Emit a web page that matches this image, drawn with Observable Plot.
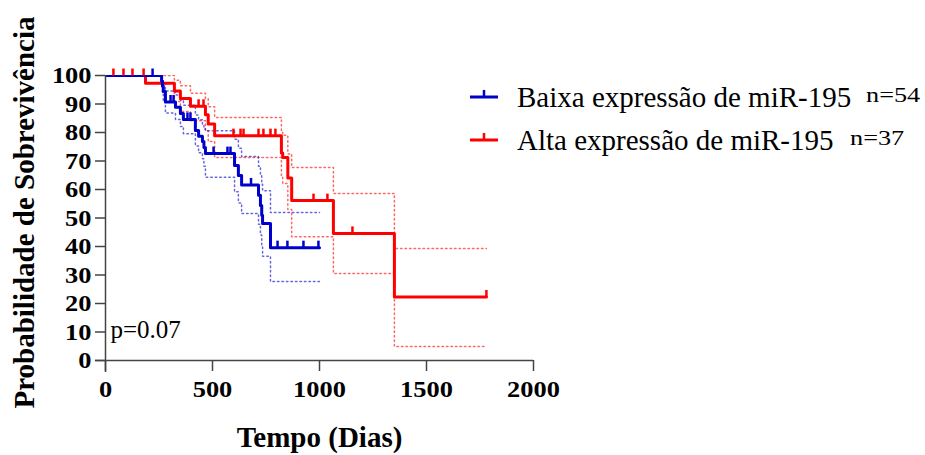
<!DOCTYPE html>
<html><head><meta charset="utf-8">
<script src="https://cdn.jsdelivr.net/npm/d3@7"></script>
<script src="https://cdn.jsdelivr.net/npm/@observablehq/plot@0.6"></script>
<style>
body{margin:0;background:#fff;}
#wrap{position:relative;width:925px;height:455px;}
#wrap svg{position:absolute;left:0;top:0;}
#wrap svg text{fill:#000;}
</style></head><body><div id="wrap"></div>
<script>
// Low expression (blue), n=54
const lowDays  = [0, 262, 266, 270, 280, 327, 350, 364, 420, 435, 453, 460, 467, 603, 621, 636, 715, 724, 730, 734, 771, 1000];
const lowSurv  = [100, 98.1, 96.3, 94.4, 90.7, 88.9, 86.7, 84.6, 80.7, 78.7, 76.8, 74.7, 72.6, 68.4, 64.9, 61.6, 58.0, 54.4, 51.0, 48.1, 39.6, 39.6];
const lowUpper = [100, 100, 98.9, 97.5, 94.6, 93.2, 91.3, 89.6, 86.1, 84.5, 82.8, 81.2, 80.6, 77.6, 74.5, 71.6, 68.2, 64.8, 61.8, 59.6, 51.9, 51.9];
const lowLower = [100, 96.3, 93.7, 91.3, 86.8, 84.6, 82.1, 79.6, 75.3, 72.9, 70.8, 68.2, 64.3, 59.2, 55.3, 51.6, 47.8, 44.0, 40.2, 36.6, 27.7, 27.7];
const lowCensored = [220, 304, 318, 383, 397, 505, 570, 584, 680, 804, 850, 925, 995];

// High expression (red), n=37
const highDays  = [0, 187, 322, 350, 397, 467, 480, 510, 822, 828, 852, 870, 1065, 1350, 1780];
const highSurv  = [100, 97.3, 94.6, 91.9, 89.2, 86.2, 83.0, 78.9, 72.8, 71.2, 64.0, 56.1, 44.6, 22.3, 22.3];
const highUpper = [100, 100, 98.3, 96.4, 93.8, 91.9, 89.0, 85.3, 80.2, 79.0, 72.5, 67.7, 58.6, 39.3, 39.3];
const highLower = [100, 97.3, 90.9, 87.4, 84.1, 80.5, 76.8, 71.2, 64.5, 62.1, 53.0, 43.4, 30.5, 4.9, 4.9];
const highCensored = [37, 84, 126, 178, 435, 458, 598, 631, 645, 715, 738, 771, 794, 972, 1037, 1154, 1780];

const seriesNames = ["Baixa expressão de miR-195", "Alta expressão de miR-195"];
const seriesCounts = ["n=54", "n=37"];
const xTicks = [0, 500, 1000, 1500, 2000];
const yTicks = [0, 10, 20, 30, 40, 50, 60, 70, 80, 90, 100];
const xTitle = "Tempo (Dias)";
const yTitle = "Probabilidade de Sobrevivência";
const pText = "p=0.07";

const BLUE = "#0000cc", RED = "#ff0000";
const FONT = "'Liberation Serif', 'Times New Roman', serif";

function stepRows(days, surv, up, lo) {
  return days.map((d, i) => ({day: d, surv: surv[i], upper: up[i], lower: lo[i]}));
}
function censorRows(cens, days, surv) {
  return cens.map(c => ({day: c, surv: surv[Math.max(0, d3.bisectRight(days, c) - 1)]}));
}
const lowRows = stepRows(lowDays, lowSurv, lowUpper, lowLower);
const highRows = stepRows(highDays, highSurv, highUpper, highLower);
const lowCens = censorRows(lowCensored, lowDays, lowSurv);
const highCens = censorRows(highCensored, highDays, highSurv);

const censorSymbol = {draw(ctx, size) { const l = Math.sqrt(size / Math.PI); ctx.moveTo(0, 0); ctx.lineTo(0, -l); }};

const ci = (rows, key, color) => Plot.line(rows, {x: "day", y: key, curve: "step-after", stroke: color, strokeOpacity: 0.6, strokeWidth: 1.5, strokeDasharray: "1.5,3", clip: true});

const plot = Plot.plot({
  width: 925, height: 455,
  marginLeft: 105, marginRight: 392, marginTop: 75, marginBottom: 95,
  style: {fontFamily: FONT, background: "white", overflow: "visible"},
  x: {domain: [0, 2000], label: null},
  y: {domain: [0, 100], label: null},
  marks: [
    ci(highRows, "upper", RED), ci(highRows, "lower", RED),
    ci(lowRows, "upper", BLUE), ci(lowRows, "lower", BLUE),
    Plot.line(highRows, {x: "day", y: "surv", curve: "step-after", stroke: RED, strokeWidth: 3, clip: true}),
    Plot.line(lowRows, {x: "day", y: "surv", curve: "step-after", stroke: BLUE, strokeWidth: 3, clip: true}),
    Plot.dot(highCens, {x: "day", y: "surv", symbol: censorSymbol, r: 7, stroke: RED, strokeWidth: 2.5, fill: "none"}),
    Plot.dot(lowCens, {x: "day", y: "surv", symbol: censorSymbol, r: 7, stroke: BLUE, strokeWidth: 2.5, fill: "none"}),
    Plot.ruleX([0], {y1: -4.2, y2: 100, stroke: "#444", strokeWidth: 1.5}),
    Plot.ruleY([0], {x1: -47, x2: 2000, stroke: "#444", strokeWidth: 1.5}),
    Plot.axisY({ticks: yTicks, tickFormat: d => String(d), tickSize: 10, tickPadding: 4, fontSize: 24, fontWeight: "bold", stroke: "#444", strokeWidth: 1.5, label: null}),
    Plot.axisX({ticks: xTicks, tickFormat: d => String(d), tickSize: 11, tickPadding: 8, fontSize: 24, fontWeight: "bold", stroke: "#444", strokeWidth: 1.5, label: null}),
    Plot.text([pText], {frameAnchor: "bottom-left", dx: 5, dy: -23, textAnchor: "start", fontSize: 25})
  ]
});
const wrap = document.getElementById("wrap");
wrap.appendChild(plot);

// stretch tick labels horizontally like the reference
plot.querySelectorAll('[aria-label="y-axis tick label"] text, [aria-label="x-axis tick label"] text').forEach(t => {
  const w = t.getComputedTextLength();
  t.setAttribute("textLength", w * 1.1);
  t.setAttribute("lengthAdjust", "spacingAndGlyphs");
});

// overlay: axis titles and legend
const leg = d3.select(wrap).append("svg").attr("width", 925).attr("height", 455).style("font-family", FONT);
leg.append("text").attr("x", 319.5).attr("y", 447).attr("text-anchor", "middle")
  .attr("font-size", 29).attr("font-weight", "bold").text(xTitle);
leg.append("text").attr("transform", "translate(34,212.5) rotate(-90)").attr("text-anchor", "middle")
  .attr("font-size", 29).attr("font-weight", "bold").text(yTitle);

const legRows = [{y: 97, color: BLUE, nx: 866}, {y: 140, color: RED, nx: 850}];
legRows.forEach((r, i) => {
  leg.append("line").attr("x1", 470).attr("x2", 498).attr("y1", r.y).attr("y2", r.y).attr("stroke", r.color).attr("stroke-width", 3);
  leg.append("line").attr("x1", 484).attr("x2", 484).attr("y1", r.y).attr("y2", r.y - 7).attr("stroke", r.color).attr("stroke-width", 2.5);
  leg.append("text").attr("x", 517).attr("y", r.y + 10).attr("font-size", 29).text(seriesNames[i]);
  const n = leg.append("text").attr("x", r.nx).attr("y", r.y + 5).attr("font-size", 21).text(seriesCounts[i]);
  const w = n.node().getComputedTextLength();
  n.attr("textLength", w * 1.25).attr("lengthAdjust", "spacingAndGlyphs");
});
</script></body></html>
